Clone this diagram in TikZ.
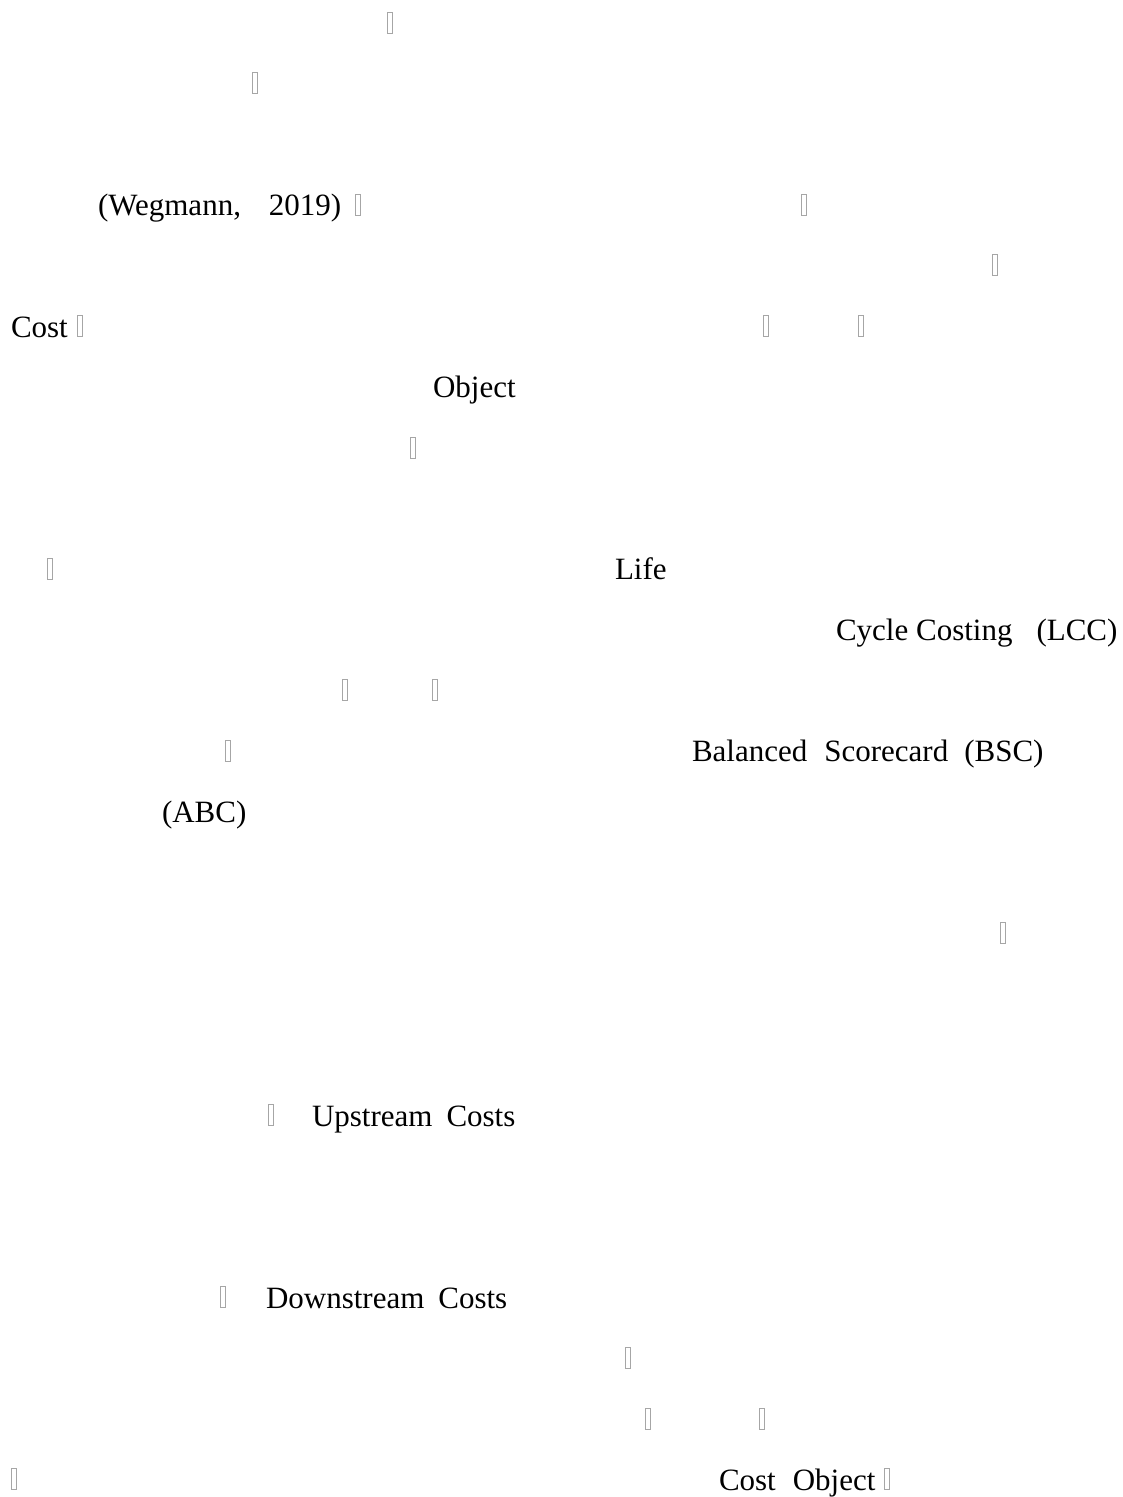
\documentclass[tikz,border=0pt]{standalone}
\usepackage{fontspec}
\setmainfont{Liberation Serif}
\begin{document}
\begin{tikzpicture}[x=1pt,y=-1pt,
  txt/.style={inner sep=0pt, outer sep=0pt, anchor=base west,
              font=\fontsize{31pt}{31pt}\selectfont},
  tofu/.style={rectangle, draw=gray!70, line width=0.9pt, fill=white,
               minimum width=5pt, minimum height=21pt, inner sep=0pt,
               anchor=south west}]
% page
\fill[white] (0,0) rectangle (1123,1497);
\useasboundingbox (0,0) rectangle (1123,1497);

% line 0
\node[tofu] (b0a) at (387,33.5) {};
% line 1
\node[tofu] (b1a) at (252,94.2) {};
% line 3
\node[txt] (t3a) at (98,215.6) {(Wegmann,\hspace{28pt}2019)};
\node[tofu] (b3a) at (355,215.6) {};
\node[tofu] (b3b) at (801,215.6) {};
% line 4
\node[tofu] (b4a) at (992,276.3) {};
% line 5
\node[txt] (t5a) at (11,337.0) {Cost};
\node[tofu] (b5a) at (77,337.0) {};
\node[tofu] (b5b) at (763,337.0) {};
\node[tofu] (b5c) at (858,337.0) {};
% line 6
\node[txt] (t6a) at (433,397.7) {Object};
% line 7
\node[tofu] (b7a) at (410,458.4) {};
% line 9
\node[tofu] (b9a) at (47,579.8) {};
\node[txt] (t9a) at (615,579.8) {Life};
% line 10
\node[txt] (t10a) at (836,640.5) {Cycle Costing\hspace{24pt}(LCC)};
% line 11
\node[tofu] (b11a) at (342,701.2) {};
\node[tofu] (b11b) at (432,701.2) {};
% line 12
\node[tofu] (b12a) at (225,761.9) {};
\node[txt] (t12a) at (692,761.9) {Balanced\hspace{17pt}Scorecard\hspace{16pt}(BSC)};
% line 13
\node[txt] (t13a) at (162,822.6) {(ABC)};
% line 15
\node[tofu] (b15a) at (1000,944.0) {};
% line 18
\node[tofu] (b18a) at (268,1126.1) {};
\node[txt] (t18a) at (312,1126.1) {Upstream\hspace{14pt}Costs};
% line 21
\node[tofu] (b21a) at (220,1308.2) {};
\node[txt] (t21a) at (266,1308.2) {Downstream\hspace{14pt}Costs};
% line 22
\node[tofu] (b22a) at (625,1368.9) {};
% line 23
\node[tofu] (b23a) at (645,1429.6) {};
\node[tofu] (b23b) at (759,1429.6) {};
% line 24
\node[tofu] (b24a) at (11,1490.3) {};
\node[txt] (t24a) at (719,1490.3) {Cost\hspace{17pt}Object};
\node[tofu] (b24b) at (884,1490.3) {};
\end{tikzpicture}
\end{document}
